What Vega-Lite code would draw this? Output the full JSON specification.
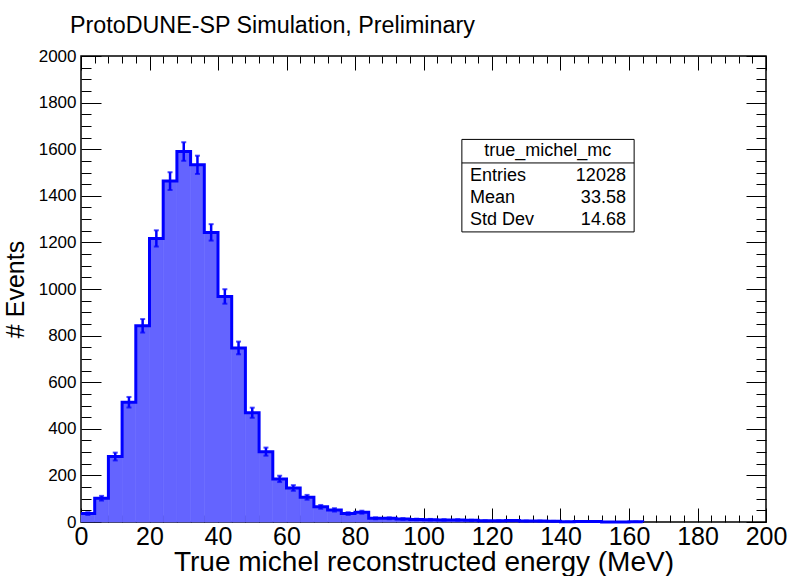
{
  "$schema": "https://vega.github.io/schema/vega-lite/v6.json",
  "width": 685,
  "height": 466,
  "autosize": {"type": "none"},
  "padding": {"left": 81, "top": 56, "right": 24, "bottom": 54},
  "background": "white",
  "config": {
    "font": "Liberation Sans",
    "view": {"stroke": "#000000", "strokeWidth": 1.5},
    "axis": {"domain": false, "grid": false, "tickColor": "#000000", "tickWidth": 1, "labelColor": "#000000", "titleColor": "#000000", "labelFont": "Liberation Sans", "titleFont": "Liberation Sans", "titleFontWeight": "normal"}
  },
  "title": {"text": "ProtoDUNE-SP Simulation, Preliminary", "anchor": "start", "frame": "group", "dx": -11, "offset": 9, "fontSize": 23.3, "fontWeight": "normal", "font": "Liberation Sans", "color": "#000000"},
  "datasets": {
    "bins": [
      {"x0": 0, "x1": 4, "xc": 2, "count": 36, "lo": 30, "hi": 42},
      {"x0": 4, "x1": 8, "xc": 6, "count": 102, "lo": 91.9, "hi": 112.1},
      {"x0": 8, "x1": 12, "xc": 10, "count": 281, "lo": 264.2, "hi": 297.8},
      {"x0": 12, "x1": 16, "xc": 14, "count": 514, "lo": 491.3, "hi": 536.7},
      {"x0": 16, "x1": 20, "xc": 18, "count": 842, "lo": 813, "hi": 871},
      {"x0": 20, "x1": 24, "xc": 22, "count": 1217, "lo": 1182.1, "hi": 1251.9},
      {"x0": 24, "x1": 28, "xc": 26, "count": 1463, "lo": 1424.8, "hi": 1501.2},
      {"x0": 28, "x1": 32, "xc": 30, "count": 1590, "lo": 1550.1, "hi": 1629.9},
      {"x0": 32, "x1": 36, "xc": 34, "count": 1533, "lo": 1493.8, "hi": 1572.2},
      {"x0": 36, "x1": 40, "xc": 38, "count": 1243, "lo": 1207.7, "hi": 1278.3},
      {"x0": 40, "x1": 44, "xc": 42, "count": 968, "lo": 936.9, "hi": 999.1},
      {"x0": 44, "x1": 48, "xc": 46, "count": 747, "lo": 719.7, "hi": 774.3},
      {"x0": 48, "x1": 52, "xc": 50, "count": 469, "lo": 447.3, "hi": 490.7},
      {"x0": 52, "x1": 56, "xc": 54, "count": 302, "lo": 284.6, "hi": 319.4},
      {"x0": 56, "x1": 60, "xc": 58, "count": 185, "lo": 171.4, "hi": 198.6},
      {"x0": 60, "x1": 64, "xc": 62, "count": 146, "lo": 133.9, "hi": 158.1},
      {"x0": 64, "x1": 68, "xc": 66, "count": 106, "lo": 95.7, "hi": 116.3},
      {"x0": 68, "x1": 72, "xc": 70, "count": 65, "lo": 56.9, "hi": 73.1},
      {"x0": 72, "x1": 76, "xc": 74, "count": 52, "lo": 44.8, "hi": 59.2},
      {"x0": 76, "x1": 80, "xc": 78, "count": 36, "lo": 30, "hi": 42},
      {"x0": 80, "x1": 84, "xc": 82, "count": 42, "lo": 35.5, "hi": 48.5},
      {"x0": 84, "x1": 88, "xc": 86, "count": 16, "lo": 12, "hi": 20},
      {"x0": 88, "x1": 92, "xc": 90, "count": 16, "lo": 12, "hi": 20},
      {"x0": 92, "x1": 96, "xc": 94, "count": 13, "lo": 9.4, "hi": 16.6},
      {"x0": 96, "x1": 100, "xc": 98, "count": 11, "lo": 7.7, "hi": 14.3},
      {"x0": 100, "x1": 104, "xc": 102, "count": 10, "lo": 6.8, "hi": 13.2},
      {"x0": 104, "x1": 108, "xc": 106, "count": 9, "lo": 6, "hi": 12},
      {"x0": 108, "x1": 112, "xc": 110, "count": 9, "lo": 6, "hi": 12},
      {"x0": 112, "x1": 116, "xc": 114, "count": 7, "lo": 4.4, "hi": 9.6},
      {"x0": 116, "x1": 120, "xc": 118, "count": 5, "lo": 2.8, "hi": 7.2},
      {"x0": 120, "x1": 124, "xc": 122, "count": 5, "lo": 2.8, "hi": 7.2},
      {"x0": 124, "x1": 128, "xc": 126, "count": 6, "lo": 3.6, "hi": 8.4},
      {"x0": 128, "x1": 132, "xc": 130, "count": 4, "lo": 2, "hi": 6},
      {"x0": 132, "x1": 136, "xc": 134, "count": 4, "lo": 2, "hi": 6},
      {"x0": 136, "x1": 140, "xc": 138, "count": 3, "lo": 1.3, "hi": 4.7},
      {"x0": 140, "x1": 144, "xc": 142, "count": 1, "lo": 0, "hi": 2},
      {"x0": 144, "x1": 148, "xc": 146, "count": 2, "lo": 0.6, "hi": 3.4},
      {"x0": 148, "x1": 152, "xc": 150, "count": 2, "lo": 0.6, "hi": 3.4},
      {"x0": 152, "x1": 156, "xc": 154, "count": 0, "lo": 0, "hi": 0},
      {"x0": 156, "x1": 160, "xc": 158, "count": 0, "lo": 0, "hi": 0},
      {"x0": 160, "x1": 164, "xc": 162, "count": 1, "lo": 0, "hi": 2},
      {"x0": 164, "count": 0}
    ],
    "box": [{"x0": 111.2, "x1": 161.5, "ytop": 1642, "ybot": 1245, "yhead": 1541}],
    "header": [{"x": 136.3, "y": 1591, "label": "true_michel_mc"}],
    "stats": [
      {"xl": 113.6, "xr": 159.1, "y": 1483, "name": "Entries", "val": "12028"},
      {"xl": 113.6, "xr": 159.1, "y": 1389, "name": "Mean", "val": "33.58"},
      {"xl": 113.6, "xr": 159.1, "y": 1294, "name": "Std Dev", "val": "14.68"}
    ]
  },
  "resolve": {"axis": {"x": "independent", "y": "independent"}},
  "layer": [
    {
      "data": {"name": "bins"},
      "transform": [{"filter": "isValid(datum.x1)"}],
      "mark": {"type": "rect", "fill": "#6464ff", "stroke": "#6464ff", "strokeWidth": 0.6},
      "encoding": {
        "x": {"field": "x0", "type": "quantitative", "scale": {"domain": [0, 200], "nice": false, "zero": false},
          "axis": {"orient": "bottom", "values": [0, 20, 40, 60, 80, 100, 120, 140, 160, 180, 200], "tickSize": -14, "labelPadding": 16, "labelFontSize": 25, "labelFlush": false, "labelOverlap": false, "title": "True michel reconstructed energy (MeV)", "titleFontSize": 28, "titleBaseline": "alphabetic", "titleY": 48}},
        "x2": {"field": "x1"},
        "y": {"field": "count", "type": "quantitative", "scale": {"domain": [0, 2000], "nice": false},
          "axis": {"orient": "left", "format": "d", "values": [0, 200, 400, 600, 800, 1000, 1200, 1400, 1600, 1800, 2000], "tickSize": -20, "labelPadding": 25, "labelFontSize": 17, "labelFlush": false, "labelOverlap": false, "title": "# Events", "titleFontSize": 25, "titlePadding": 10}},
        "y2": {"datum": 0}
      }
    },
    {
      "data": {"name": "bins"},
      "mark": {"type": "line", "interpolate": "step-after", "color": "#0000ff", "strokeWidth": 3},
      "encoding": {
        "x": {"field": "x0", "type": "quantitative", "scale": {"domain": [0, 200], "nice": false, "zero": false},
          "axis": {"orient": "bottom", "values": [4, 8, 12, 16, 24, 28, 32, 36, 44, 48, 52, 56, 64, 68, 72, 76, 84, 88, 92, 96, 104, 108, 112, 116, 124, 128, 132, 136, 144, 148, 152, 156, 164, 168, 172, 176, 184, 188, 192, 196], "tickSize": -7, "labels": false, "title": null}},
        "y": {"field": "count", "type": "quantitative", "scale": {"domain": [0, 2000], "nice": false},
          "axis": {"orient": "left", "values": [50, 100, 150, 250, 300, 350, 450, 500, 550, 650, 700, 750, 850, 900, 950, 1050, 1100, 1150, 1250, 1300, 1350, 1450, 1500, 1550, 1650, 1700, 1750, 1850, 1900, 1950], "tickSize": -10, "labels": false, "title": null}}
      }
    },
    {
      "data": {"name": "bins"},
      "transform": [{"filter": "datum.count > 0"}],
      "mark": {"type": "errorbar", "color": "#0000ff", "thickness": 2.5, "ticks": {"size": 5, "thickness": 2, "color": "#0000ff"}},
      "encoding": {
        "x": {"field": "xc", "type": "quantitative", "scale": {"domain": [0, 200], "nice": false, "zero": false}, "axis": null},
        "y": {"field": "lo", "type": "quantitative", "scale": {"domain": [0, 2000], "nice": false}, "axis": null},
        "y2": {"field": "hi"}
      }
    },
    {
      "data": {"name": "box"},
      "mark": {"type": "rect", "fill": "white", "stroke": "#000000", "strokeWidth": 1},
      "encoding": {
        "x": {"field": "x0", "type": "quantitative", "scale": {"domain": [0, 200], "nice": false, "zero": false},
          "axis": {"orient": "top", "values": [0, 20, 40, 60, 80, 100, 120, 140, 160, 180, 200], "tickSize": -14, "labels": false, "title": null}},
        "x2": {"field": "x1"},
        "y": {"field": "ytop", "type": "quantitative", "scale": {"domain": [0, 2000], "nice": false},
          "axis": {"orient": "right", "values": [0, 200, 400, 600, 800, 1000, 1200, 1400, 1600, 1800, 2000], "tickSize": -20, "labels": false, "title": null}},
        "y2": {"field": "ybot"}
      }
    },
    {
      "data": {"name": "box"},
      "mark": {"type": "rule", "color": "#000000", "strokeWidth": 1},
      "encoding": {
        "x": {"field": "x0", "type": "quantitative", "scale": {"domain": [0, 200], "nice": false, "zero": false},
          "axis": {"orient": "top", "values": [4, 8, 12, 16, 24, 28, 32, 36, 44, 48, 52, 56, 64, 68, 72, 76, 84, 88, 92, 96, 104, 108, 112, 116, 124, 128, 132, 136, 144, 148, 152, 156, 164, 168, 172, 176, 184, 188, 192, 196], "tickSize": -7, "labels": false, "title": null}},
        "x2": {"field": "x1"},
        "y": {"field": "yhead", "type": "quantitative", "scale": {"domain": [0, 2000], "nice": false},
          "axis": {"orient": "right", "values": [50, 100, 150, 250, 300, 350, 450, 500, 550, 650, 700, 750, 850, 900, 950, 1050, 1100, 1150, 1250, 1300, 1350, 1450, 1500, 1550, 1650, 1700, 1750, 1850, 1900, 1950], "tickSize": -10, "labels": false, "title": null}}
      }
    },
    {
      "data": {"name": "header"},
      "mark": {"type": "text", "fontSize": 18, "align": "center", "baseline": "middle", "color": "#000000", "font": "Liberation Sans"},
      "encoding": {
        "x": {"field": "x", "type": "quantitative", "scale": {"domain": [0, 200], "nice": false, "zero": false}, "axis": null},
        "y": {"field": "y", "type": "quantitative", "scale": {"domain": [0, 2000], "nice": false}, "axis": null},
        "text": {"field": "label"}
      }
    },
    {
      "data": {"name": "stats"},
      "mark": {"type": "text", "fontSize": 18, "align": "left", "baseline": "middle", "color": "#000000", "font": "Liberation Sans"},
      "encoding": {
        "x": {"field": "xl", "type": "quantitative", "scale": {"domain": [0, 200], "nice": false, "zero": false}, "axis": null},
        "y": {"field": "y", "type": "quantitative", "scale": {"domain": [0, 2000], "nice": false}, "axis": null},
        "text": {"field": "name"}
      }
    },
    {
      "data": {"name": "stats"},
      "mark": {"type": "text", "fontSize": 18, "align": "right", "baseline": "middle", "color": "#000000", "font": "Liberation Sans"},
      "encoding": {
        "x": {"field": "xr", "type": "quantitative", "scale": {"domain": [0, 200], "nice": false, "zero": false}, "axis": null},
        "y": {"field": "y", "type": "quantitative", "scale": {"domain": [0, 2000], "nice": false}, "axis": null},
        "text": {"field": "val"}
      }
    }
  ]
}
